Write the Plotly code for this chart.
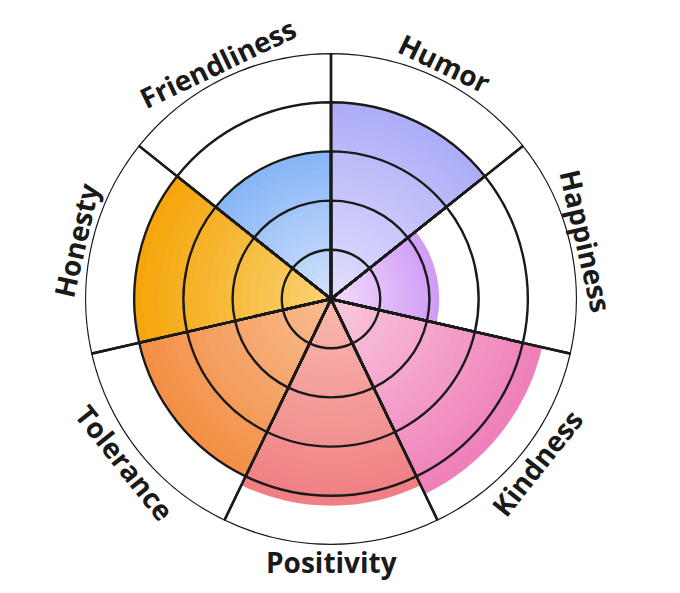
import plotly.graph_objects as go
import math

categories = ["Humor", "Happiness", "Kindness", "Positivity", "Tolerance", "Honesty", "Friendliness"]
values = [4.0, 2.2, 4.4, 4.2, 4.0, 4.0, 3.0]
outer_colors = ["#aeaef8", "#cf9cf6", "#ef80b9", "#f07f84", "#f39046", "#f5a60c", "#88b5f6"]
inner_colors = ["#e2defd", "#f2dcfd", "#f9c8dd", "#f8b9ae", "#f8bc90", "#f9d272", "#d2e2fd"]
rings = [1, 2, 3, 4, 5]
r_max = 5

n = len(categories)
step = 360 / n
centers = [i * step + step / 2 for i in range(n)]

def hex2rgb(h):
    h = h.lstrip("#")
    return tuple(int(h[i:i + 2], 16) for i in (0, 2, 4))

def mix(c1, c2, t):
    a, b = hex2rgb(c1), hex2rgb(c2)
    return "rgb(%d,%d,%d)" % tuple(round(a[j] + (b[j] - a[j]) * t) for j in range(3))

fig = go.Figure()

N = 24
for k in range(N):
    frac = 1 - k / N
    t = k / (N - 1)
    fig.add_trace(go.Barpolar(
        r=[v * frac for v in values],
        theta=centers,
        width=[step] * n,
        marker=dict(color=[mix(o, i, t) for o, i in zip(outer_colors, inner_colors)],
                    line=dict(width=0)),
        hoverinfo="skip",
        showlegend=False,
    ))

# grid drawn on top of fills
for rv in rings:
    fig.add_trace(go.Barpolar(
        r=[rv] * n,
        theta=centers,
        width=[step] * n,
        marker=dict(color="rgba(0,0,0,0)", line=dict(color="#1a1a1a", width=2.4)),
        hoverinfo="skip",
        showlegend=False,
    ))

W, H = 680, 593
cx, cy = 323, 302  # px from left / bottom (page has 8px body margin)
R_px = 246
annotations = []
for name, a in zip(categories, centers):
    flip = 90 < a < 270
    R = 262 if not flip else 263
    x = (cx + R * math.sin(math.radians(a))) / W
    y = (cy + R * math.cos(math.radians(a))) / H
    ang = a - 180 if flip else (a if a <= 180 else a - 360)
    annotations.append(dict(
        x=x, y=y, xref="paper", yref="paper", text=name, showarrow=False,
        textangle=ang, xanchor="center", yanchor="middle",
        font=dict(family="Open Sans", size=28, color="#1a1a1a", weight="bold"),
    ))

fig.update_layout(
    width=W, height=H,
    margin=dict(l=0, r=0, t=0, b=0),
    paper_bgcolor="white",
    plot_bgcolor="white",
    polar=dict(
        barmode="overlay",
        domain=dict(x=[(cx - R_px) / W, (cx + R_px) / W], y=[(cy - R_px) / H, (cy + R_px) / H]),
        bgcolor="white",
        radialaxis=dict(range=[0, r_max], showgrid=False, showline=False, showticklabels=False, ticks=""),
        angularaxis=dict(direction="clockwise", rotation=90, showgrid=False, showline=False,
                         showticklabels=False, ticks=""),
    ),
    annotations=annotations,
)

fig.write_html("out.html")
